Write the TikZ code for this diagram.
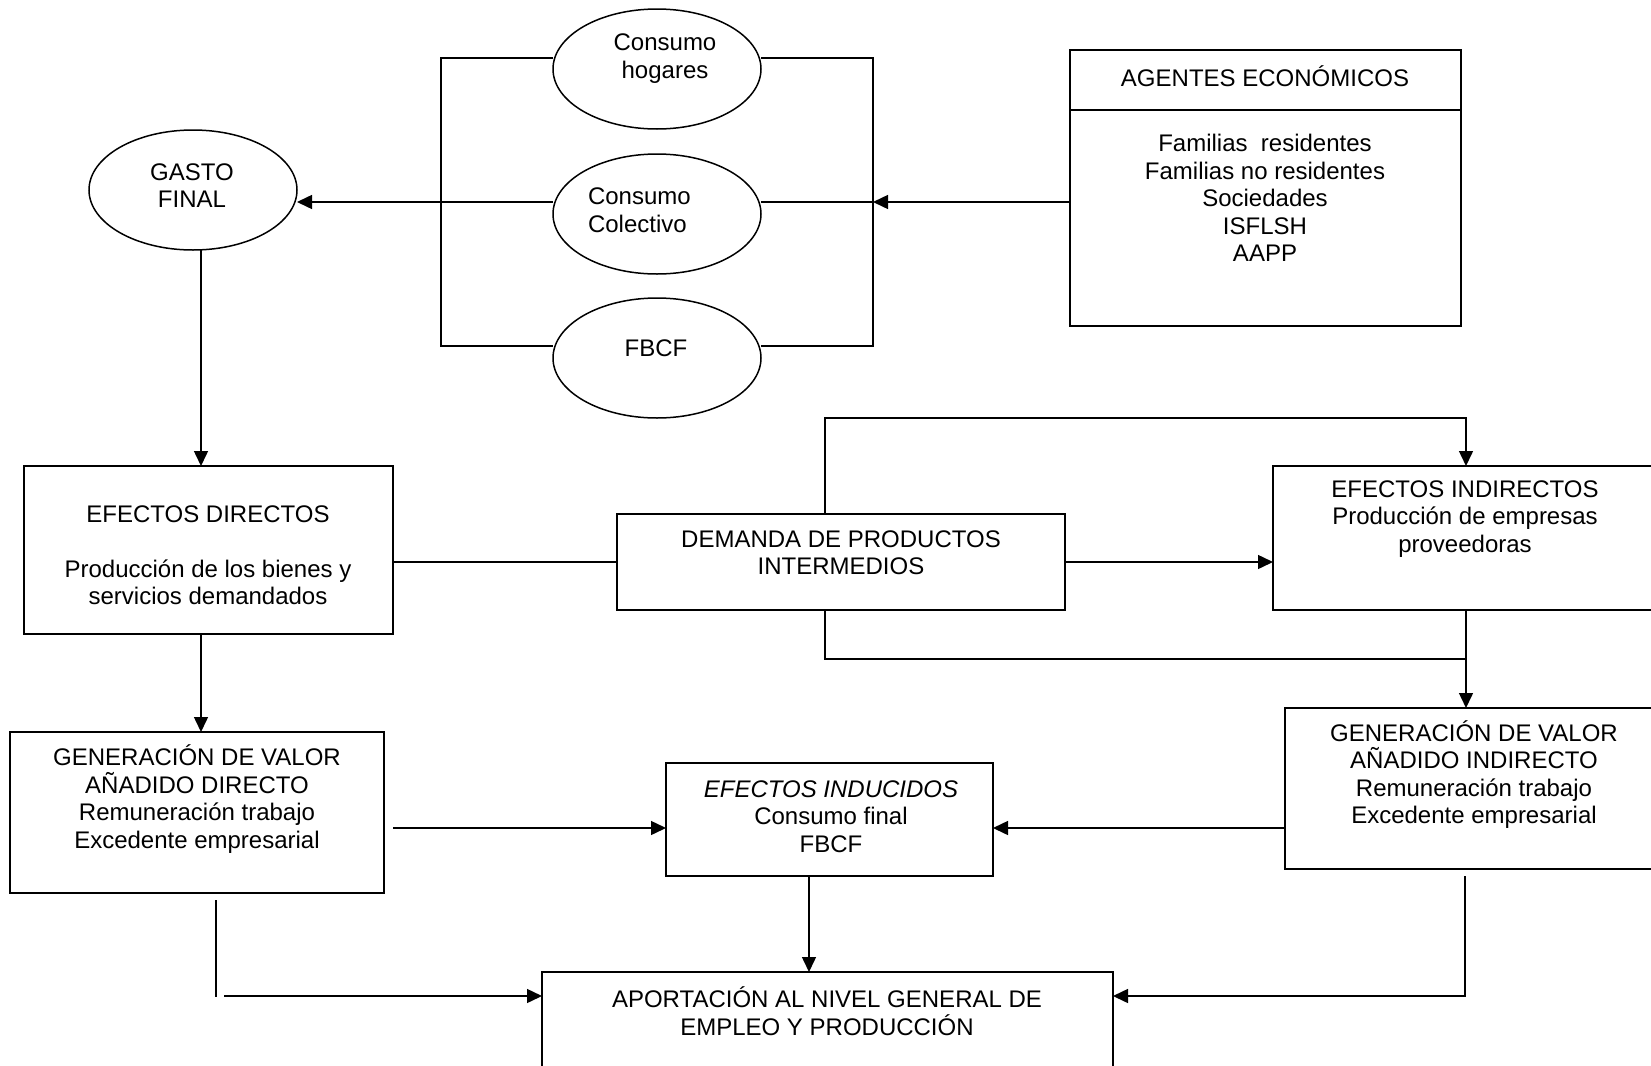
\documentclass[tikz,border=0pt]{standalone}
\usepackage{fontspec}
\setmainfont{Liberation Sans}
\usetikzlibrary{shapes.geometric,arrows.meta}
\begin{document}
\begin{tikzpicture}[x=0.5pt,y=-0.5pt,
  line width=0.75pt,
  every node/.style={inner sep=0pt, outer sep=0pt},
  oval/.style={draw, ellipse, minimum width=104pt, minimum height=60pt},
  box/.style={draw, rectangle},
  txt/.style={align=center, font=\fontsize{12}{13.75}\selectfont},
  arr/.style={-{Triangle[length=7.5pt,width=7pt]}}]
\useasboundingbox (0,0) rectangle (1651,1066);
\clip (0,0) rectangle (1651,1066);

% ellipses
\node[oval] (hogares) at (657,69) {};
\node[txt] (hogarest) at (665,58.5) {Consumo\\hogares};
\node[oval] (colectivo) at (657,214) {};
\node[txt, align=left, anchor=west] (colectivot) at (588,210) {Consumo\\Colectivo};
\node[oval] (fbcf) at (657,358) {};
\node[txt] (fbcft) at (656,348) {FBCF};
\node[oval] (gasto) at (193,190) {};
\node[txt] (gastot) at (192,185.5) {GASTO\\FINAL};

% boxes
\node[box, minimum width=195.5pt, minimum height=138pt] (agentes) at (1265.5,188) {};
\coordinate (sep) at (0,110);
\draw (agentes.west |- sep) -- (agentes.east |- sep);
\node[txt] (agentesh) at (1265,76) {AGENTES ECONÓMICOS};
\node[txt] (agentesl) at (1265,198) {Familias~ residentes\\Familias no residentes\\Sociedades\\ISFLSH\\AAPP};

\node[box, minimum width=184.5pt, minimum height=84pt] (directos) at (208.5,550) {};
\node[txt] (directost) at (208,555) {EFECTOS DIRECTOS\\[13.75pt]Producción de los bienes y\\servicios demandados};

\node[box, minimum width=224pt, minimum height=48pt] (demanda) at (841,562) {};
\node[txt] (demandat) at (841,552.5) {DEMANDA DE PRODUCTOS\\INTERMEDIOS};

\node[box, minimum width=192pt, minimum height=72pt] (indirectos) at (1465,538) {};
\node[txt] (indirectost) at (1465,519) {EFECTOS INDIRECTOS\\Producción de empresas\\proveedoras};

\node[box, minimum width=187pt, minimum height=80.5pt] (gendir) at (197,812.5) {};
\node[txt] (gendirt) at (197,799) {GENERACIÓN DE VALOR\\AÑADIDO DIRECTO\\Remuneración trabajo\\Excedente empresarial};

\node[box, minimum width=163.5pt, minimum height=56.5pt] (inducidos) at (829.5,819.5) {};
\node[txt] (inducidost) at (831,816.5) {\textit{EFECTOS INDUCIDOS}\\Consumo final\\FBCF};

\node[box, minimum width=189pt, minimum height=80.5pt] (genind) at (1474,788.5) {};
\node[txt] (genindt) at (1474,774.5) {GENERACIÓN DE VALOR\\AÑADIDO INDIRECTO\\Remuneración trabajo\\Excedente empresarial};

\node[box, minimum width=285.5pt, minimum height=59pt] (aportacion) at (827.5,1031) {};
\node[txt] (aportaciont) at (827,1011) {APORTACIÓN AL NIVEL GENERAL DE\\EMPLEO Y PRODUCCIÓN};

% bracket around the three ellipses
\coordinate (brTL) at (441,58);
\coordinate (brBL) at (441,346);
\coordinate (brTR) at (873,58);
\coordinate (brBR) at (873,346);
\coordinate (brM) at (873,202);
\draw ([yshift=5.5pt]hogares.west) -- (brTL) -- (brBL) -- ([yshift=6pt]fbcf.west);
\draw ([yshift=5.5pt]hogares.east) -- (brTR) -- (brBR) -- ([yshift=6pt]fbcf.east);
\draw ([yshift=6pt]colectivo.east) -- (brM);
\draw[arr] ([yshift=6pt]colectivo.west) -- ([yshift=-6pt]gasto.east);
\draw[arr] (agentes.west |- brM) -- (brM);

% left column
\coordinate (vx) at (201,0);
\draw[arr] (gasto.south -| vx) -- (directos.north -| vx);
\draw[arr] (directos.south -| vx) -- (gendir.north -| vx);

% middle row
\draw (demanda.west) -- (demanda.west -| directos.east);
\draw[arr] (demanda.east) -- (demanda.east -| indirectos.west);
\coordinate (lx) at (825,0);
\coordinate (rx) at (1466,0);
\coordinate (topy) at (0,418);
\coordinate (boty) at (0,659);
\draw[arr] (demanda.north -| lx) |- (rx |- topy) -- (indirectos.north -| rx);
\draw (demanda.south -| lx) |- (rx |- boty);
\draw[arr] (indirectos.south -| rx) -- (genind.north -| rx);

% lower row
\coordinate (ay) at (0,828);
\coordinate (gdE) at ([xshift=4.5pt]gendir.east);
\draw[arr] (gdE |- ay) -- (inducidos.west |- ay);
\draw[arr] (genind.west |- ay) -- (inducidos.east |- ay);
\coordinate (ix) at (809,0);
\draw[arr] (inducidos.south -| ix) -- (aportacion.north -| ix);

% bottom connectors
\coordinate (fa) at (216,900);
\coordinate (fb) at (216,997);
\draw (fa) -- (fb);
\coordinate (fc) at (224,996);
\draw[arr] (fc) -- (aportacion.west |- fc);
\coordinate (ra) at (1465,876);
\coordinate (ry) at (0,996);
\draw[arr] (ra) |- (aportacion.east |- ry);
\end{tikzpicture}
\end{document}
